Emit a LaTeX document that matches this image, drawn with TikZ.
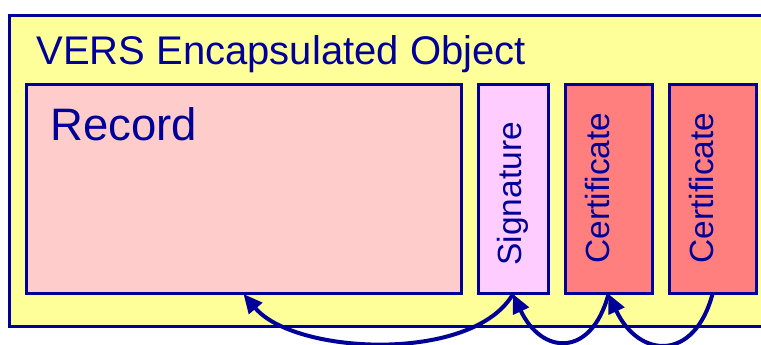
\documentclass[tikz,border=0pt]{standalone}
\usepackage{fontspec}
\setmainfont{Liberation Sans}
\usetikzlibrary{positioning,calc,arrows.meta}

\definecolor{versblue}{HTML}{000099}
\definecolor{versyellow}{HTML}{FFFF99}
\definecolor{recpink}{HTML}{FFCCCC}
\definecolor{sigpink}{HTML}{FFCCFF}
\definecolor{certred}{HTML}{FF7F7F}

\tikzset{
	part/.style={draw=versblue, line width=3pt, inner sep=0pt, outer sep=0pt, minimum height=209pt},
	vlabel/.style={rotate=90, anchor=base west, text=versblue, font=\fontsize{33.5}{36}\selectfont},
	link/.style={draw=versblue, line width=4pt, -{Triangle[length=19pt,width=17pt]}},
}

\begin{document}
\begin{tikzpicture}[x=1pt,y=1pt]
	\clip (0,0) rectangle (761,345);
	% Outer object, runs off the right edge
	\node[part, fill=versyellow, minimum width=780pt, minimum height=311pt, anchor=north west] (obj) at (9,329) {};
	\node[anchor=base west, text=versblue, font=\fontsize{40}{44}\selectfont] (title) at (33,280) {VERS Encapsulated Object};
	
	% Parts of the object
	\node[part, fill=recpink, minimum width=435pt] (rec) at (243.5,155.5) {};
	\node[part, fill=sigpink, minimum width=70pt, right=17pt of rec] (sig) {};
	\node[part, fill=certred, minimum width=87pt, right=17pt of sig] (certa) {};
	\node[part, fill=certred, minimum width=87pt, right=17pt of certa] (certb) {};
	
	\node[anchor=base west, text=versblue, font=\fontsize{45.5}{50}\selectfont] (reclabel) at ($(rec.north west)+(21,-56)$) {Record};
	\node[vlabel] (siglabel) at ($(sig.south)+(8,25)$) {Signature};
	\node[vlabel] (certalabel) at ($(certa.south)+(0.5,27)$) {Certificate};
	\node[vlabel] (certblabel) at ($(certb.south)+(0.5,27)$) {Certificate};
	
	% Chain of links
	\draw[link] (sig.south) to[out=-120, in=-50, looseness=0.76] (rec.south);
	\draw[link] (certa.south) to[out=-105, in=-65, looseness=1.8] (sig.south);
	\draw[link] (certb.south) to[out=-105, in=-65, looseness=1.75] (certa.south);
	
	%\draw[help lines] (0,0) grid[step=50] (761,345);
\end{tikzpicture}
\end{document}
